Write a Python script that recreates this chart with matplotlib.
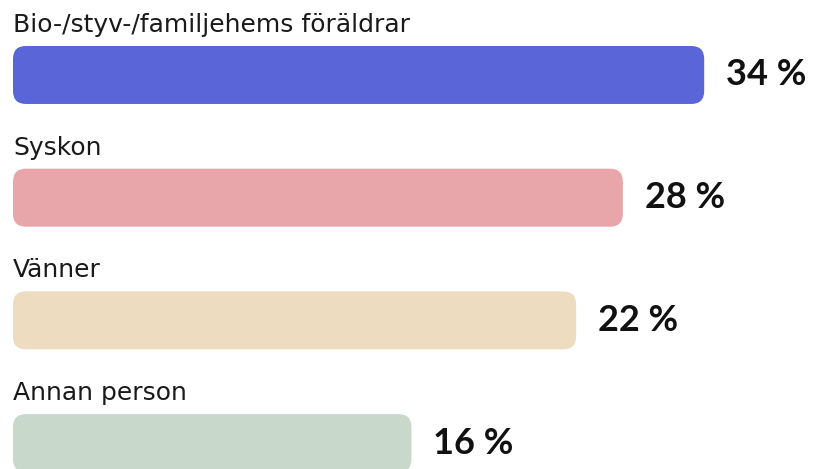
import matplotlib
matplotlib.use("Agg")
import matplotlib.pyplot as plt
from matplotlib.patches import FancyBboxPatch

# categories, shown share (label) and bar length as drawn in the picture
categories = ["Bio-/styv-/familjehems föräldrar", "Syskon", "Vänner", "Annan person"]
shares = [34, 28, 22, 16]
bar_len = [34, 30, 27.7, 19.6]
colors = ["#5A66D8", "#E8A5AA", "#EEDCC1", "#C8D9CC"]

plt.rcParams['font.family'] = ['Lato', 'DejaVu Sans']

fig = plt.figure(figsize=(8.16, 4.69), dpi=100)
ax = fig.add_axes([0, 0, 1, 1])
ax.set_xlim(-0.64, 39.5)
ax.set_ylim(3.211, -0.611)
ax.axis("off")

# data units per pixel, for rounded corners
px_x = (39.5 + 0.64) / 816
px_y = (3.211 + 0.611) / 469
r = 13 * px_x
h = 58 * px_y

for i, (cat, s, L, c) in enumerate(zip(categories, shares, bar_len, colors)):
    box = FancyBboxPatch((0, i - h / 2), L, h,
                         boxstyle=f"round,pad=0,rounding_size={r}",
                         mutation_aspect=px_y / px_x,
                         facecolor=c, edgecolor="none")
    ax.add_patch(box)
    ax.text(0, i - h / 2 - 14 * px_y, cat, fontsize=18, color="#1a1a1a",
            family="DejaVu Sans", va="baseline", ha="left")
    ax.text(L + 22 * px_x, i, f"{s} %", fontsize=26, fontweight="bold",
            color="#111111", va="center", ha="left")

fig.savefig("out.png", dpi=100)
